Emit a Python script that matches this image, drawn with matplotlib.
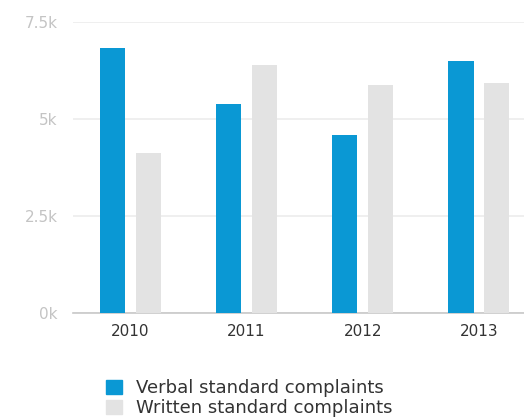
import matplotlib
matplotlib.use("Agg")
import matplotlib.pyplot as plt
from matplotlib.patches import Patch
from matplotlib.ticker import FixedLocator
import numpy as np

years = ["2010", "2011", "2012", "2013"]
verbal = [6830, 5390, 4590, 6500]
written = [4120, 6390, 5880, 5930]
y_ticks = [0, 2500, 5000, 7500]
y_labels = ["0k", "2.5k", "5k", "7.5k"]

VERBAL_COLOR = "#0a98d4"
WRITTEN_COLOR = "#e3e3e3"

fig = plt.figure(figsize=(5.24, 4.19), dpi=100)
ax = fig.add_axes([73 / 524, 0.253, 1 - 73 / 524, 0.6945])

x = np.arange(len(years))
width = 0.22
offset = 0.155
ax.bar(x - offset, verbal, width, color=VERBAL_COLOR, zorder=3)
ax.bar(x + offset, written, width, color=WRITTEN_COLOR, zorder=3)

ax.set_xlim(-0.496, 3.39)
ax.set_ylim(0, 7500)
ax.yaxis.set_major_locator(FixedLocator(y_ticks))
ax.set_yticklabels(y_labels)
ax.set_xticks(x)
ax.set_xticklabels(years)

ax.grid(axis="y", color="#ececec", linewidth=1.2, zorder=0)
for side in ["top", "right", "left"]:
    ax.spines[side].set_visible(False)
ax.spines["bottom"].set_color("#c8c8c8")
ax.spines["bottom"].set_linewidth(1.2)
ax.tick_params(axis="both", length=0)
ax.tick_params(axis="y", colors="#c4c4c4", labelsize=11, pad=11)
ax.tick_params(axis="x", colors="#333333", labelsize=11, pad=8)

handles = [Patch(color=VERBAL_COLOR), Patch(color=WRITTEN_COLOR)]
fig.legend(
    handles,
    ["Verbal standard complaints", "Written standard complaints"],
    loc="upper left",
    bbox_to_anchor=(99 / 524, 1 - 372 / 419),
    frameon=False,
    handlelength=0.85,
    handleheight=0.85,
    handletextpad=0.8,
    labelspacing=0.1,
    fontsize=13,
    labelcolor="#333333",
    borderaxespad=0,
)

fig.savefig("out.png", dpi=100)
